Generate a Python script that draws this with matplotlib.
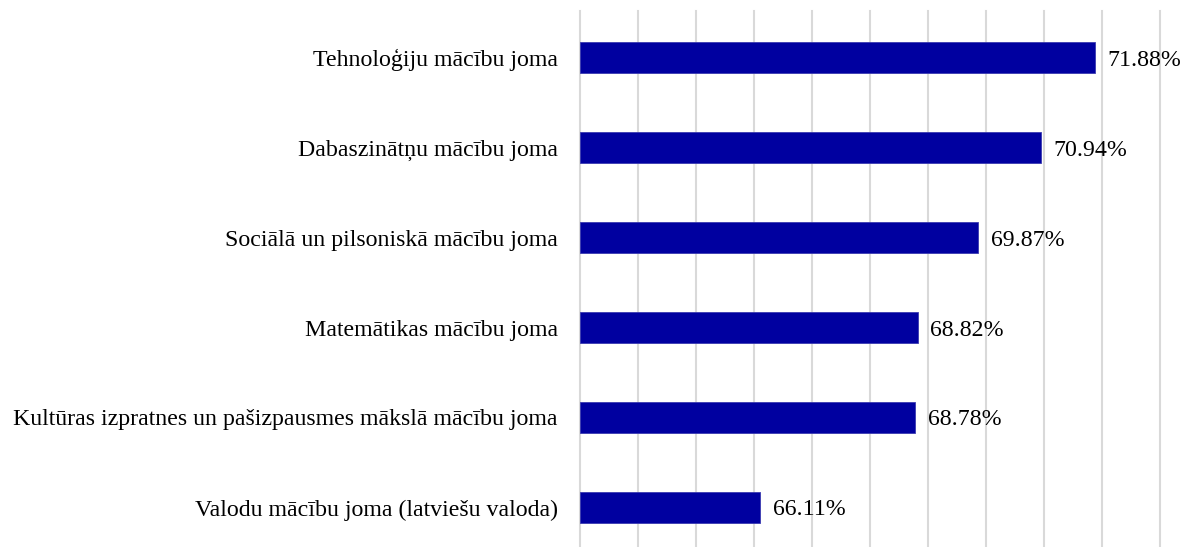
import matplotlib.pyplot as plt

categories = [
    "Tehnoloģiju mācību joma",
    "Dabaszinātņu mācību joma",
    "Sociālā un pilsoniskā mācību joma",
    "Matemātikas mācību joma",
    "Kultūras izpratnes un pašizpausmes mākslā mācību joma",
    "Valodu mācību joma (latviešu valoda)",
]
values = [71.88, 70.94, 69.87, 68.82, 68.78, 66.11]
labels = ["71.88%", "70.94%", "69.87%", "68.82%", "68.78%", "66.11%"]

plt.rcParams["font.family"] = ["Liberation Serif", "DejaVu Serif"]

fig = plt.figure(figsize=(11.81, 5.47), dpi=100)
ax = fig.add_axes([0.4911, 0.0, 0.4911, 0.98])

pos = list(range(len(categories)))[::-1]
ax.barh(pos, [v - 63 for v in values], left=63, height=0.35,
        color="#0000A0", edgecolor="#3a3ab0", linewidth=0.6, zorder=3)
for p, v, t in zip(pos, values, labels):
    ax.text(v + 0.22, p, t, va="center_baseline", ha="left", fontsize=17.2)

ax.set_xlim(63, 73)
ax.set_ylim(-0.44, 5.52)
ax.set_xticks(range(63, 74))
ax.set_xticklabels([])
ax.set_yticks(pos)
ax.set_yticklabels(categories, fontsize=17.2)
ax.tick_params(length=0, pad=16)
ax.grid(axis="x", color="#d9d9d9", linewidth=1.5, zorder=0)
for line in ax.get_xgridlines():
    line.set_clip_on(False)
for s in ax.spines.values():
    s.set_visible(False)

fig.savefig("out.png", dpi=100)
